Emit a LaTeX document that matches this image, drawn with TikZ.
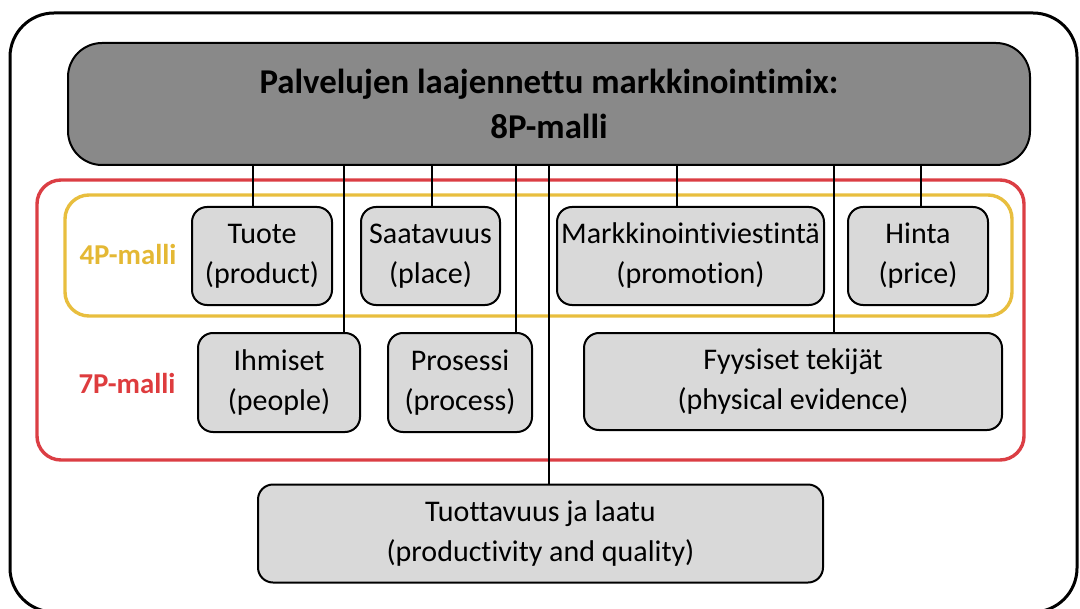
\documentclass[tikz,border=0pt]{standalone}
\usepackage{fontspec}
\setmainfont[Ligatures=NoCommon]{Carlito}
\usepackage{tikz}
\usetikzlibrary{positioning,calc}
\definecolor{mixgray}{RGB}{137,137,137}
\definecolor{boxgray}{RGB}{217,217,217}
\definecolor{mixred}{RGB}{219,62,68}
\definecolor{mixyellow}{RGB}{232,190,62}
\definecolor{labyellow}{RGB}{228,184,52}
\definecolor{labred}{RGB}{222,60,62}
\tikzset{
  titlebox/.style={draw=black, line width=1pt, fill=mixgray, rounded corners=17pt,
    align=center, font=\fontsize{17.4}{22.5}\selectfont\bfseries},
  pbox/.style={draw=black, line width=1pt, fill=boxgray, rounded corners=7.5pt,
    align=center, inner sep=1pt, font=\fontsize{15}{20}\selectfont},
  mixframe/.style={line width=1.7pt, rounded corners=12pt},
  mixlabel/.style={font=\fontsize{14.4}{16}\selectfont\bfseries},
  conn/.style={line width=1pt}
}

\begin{document}
\begin{tikzpicture}[x=0.5pt, y=-0.5pt]
    \useasboundingbox (0,0) rectangle (1080,609);
    % outer frame
    \draw[line width=1.5pt, rounded corners=22pt] (10,13) rectangle (1077,612);
    % 7P and 4P groups
    \draw[mixframe, draw=mixred] (37,180) rectangle (1024,460);
    \draw[mixframe, draw=mixyellow] (65,195) rectangle (1012,316);
    \node[mixlabel, text=labyellow] (l4p) at (128,255) {4P-malli};
    \node[mixlabel, text=labred] (l7p) at (127,383) {7P-malli};

    \node[titlebox, minimum width=481pt, minimum height=61pt] (title) at (549,104)
         {Palvelujen laajennettu markkinointimix:\\ 8P-malli};

    \node[pbox, minimum width=70pt, minimum height=49pt] (tuote) at (262,256)
         {Tuote\\(product)};
    \node[pbox, minimum width=69.5pt, minimum height=49pt] (saatavuus) at (430.5,256)
         {Saatavuus\\(place)};
    \node[pbox, minimum width=133.5pt, minimum height=49pt] (promo) at (690.5,256)
         {Markkinointiviestintä\\(promotion)};
    \node[pbox, minimum width=70pt, minimum height=49pt] (hinta) at (918,256)
         {Hinta\\(price)};
    \node[pbox, minimum width=81pt, minimum height=49.5pt] (ihmiset) at (279,382.5)
         {Ihmiset\\(people)};
    \node[pbox, minimum width=72pt, minimum height=49.5pt] (prosessi) at (460,382.5)
         {Prosessi\\(process)};
    \node[pbox, minimum width=209pt, minimum height=48.5pt] (fyysiset) at (793,381.5)
         {Fyysiset tekijät\\(physical evidence)};
    \node[pbox, minimum width=282.5pt, minimum height=49pt] (laatu) at (540.5,533.5)
         {Tuottavuus ja laatu\\(productivity and quality)};

    % connectors from the 8P box
    \draw[conn] (253,0 |- title.south) -- (253,0 |- tuote.north);
    \draw[conn] (344,0 |- title.south) -- (344,0 |- ihmiset.north);
    \draw[conn] (432,0 |- title.south) -- (432,0 |- saatavuus.north);
    \draw[conn] (516,0 |- title.south) -- (516,0 |- prosessi.north);
    \draw[conn] (549,0 |- title.south) -- (549,0 |- laatu.north);
    \draw[conn] (677,0 |- title.south) -- (677,0 |- promo.north);
    \draw[conn] (834,0 |- title.south) -- (834,0 |- fyysiset.north);
    \draw[conn] (921,0 |- title.south) -- (921,0 |- hinta.north);
  \end{tikzpicture}
\end{document}
